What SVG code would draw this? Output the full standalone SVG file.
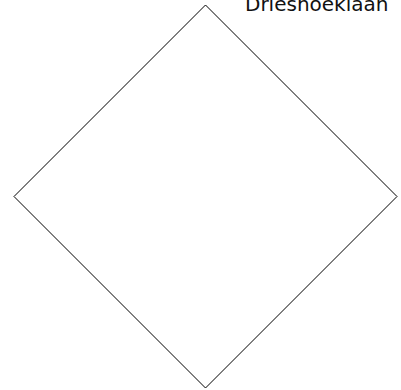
<svg xmlns="http://www.w3.org/2000/svg" width="401" height="390" viewBox="0 0 401 390">
<style>
.shape{fill:#fff;stroke:#000;stroke-width:1}
.lbl{font-family:"DejaVu Sans",Verdana,sans-serif;font-size:20px;fill:#111}
</style>
<rect width="401" height="390" fill="#fff"/>
<g id="diamond">
<polygon class="shape" points="205.5,5 397,196.5 205.5,388 14,196.5"/>
</g>
<g id="label">
<text class="lbl" x="245" y="11">Drieshoeklaan</text>
</g>
<g id="connectors"></g>
</svg>
